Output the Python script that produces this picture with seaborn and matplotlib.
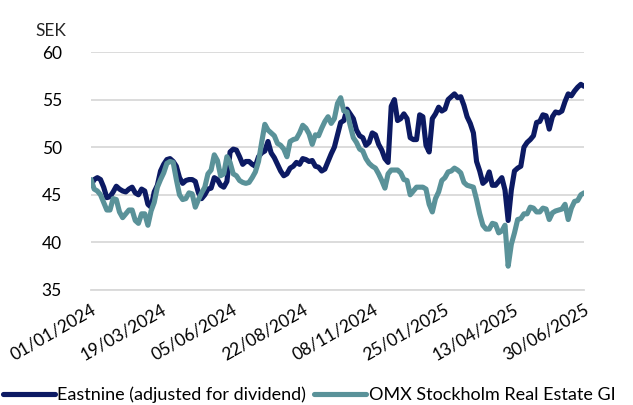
import matplotlib
matplotlib.use("Agg")
import matplotlib.pyplot as plt
import seaborn as sns
import pandas as pd
from matplotlib.lines import Line2D

start_date = "2024-01-01"
step = "84h"  # twice a week
eastnine = [46.0, 46.6, 46.8, 46.6, 45.8, 44.7, 44.8, 45.3, 45.9, 45.6,
            45.4, 45.3, 45.6, 45.8, 45.2, 45.0, 45.6, 45.4, 44.0, 43.7,
            45.3, 46.0, 47.5, 48.2, 48.7, 48.8, 48.5, 48.0, 46.8, 46.2,
            46.5, 46.6, 46.6, 46.4, 45.2, 44.6, 45.0, 45.6, 45.7, 46.8,
            46.6, 46.0, 45.8, 46.4, 49.5, 49.8, 49.7, 49.0, 48.2, 48.5,
            48.5, 48.2, 48.0, 49.0, 49.4, 49.6, 50.6, 49.4, 48.9, 48.2,
            47.5, 47.0, 47.2, 47.8, 48.0, 48.4, 48.2, 48.8, 48.7, 48.5,
            48.6, 48.0, 47.9, 47.5, 47.7, 48.5, 49.3, 50.0, 51.3, 52.6,
            52.8, 54.0, 53.5, 53.0, 51.8, 51.2, 51.0, 50.2, 50.5, 51.5,
            51.3, 50.3, 49.7, 48.8, 48.4, 54.3, 55.0, 52.8, 53.0, 53.5,
            53.0, 51.0, 50.8, 50.8, 53.4, 53.2, 50.2, 49.5, 53.0, 53.5,
            54.2, 53.8, 54.0, 55.0, 55.3, 55.6, 55.2, 55.3, 54.4, 53.2,
            52.5, 51.5, 48.5, 47.5, 46.2, 46.5, 47.4, 46.0, 46.0, 46.4,
            46.8, 45.5, 42.3, 45.5, 47.5, 47.8, 48.0, 50.0, 50.5, 50.8,
            51.2, 52.6, 52.7, 53.4, 53.3, 51.9, 53.2, 53.7, 53.6, 53.8,
            54.8, 55.6, 55.4, 55.9, 56.3, 56.6, 56.4]
omx = [46.6, 45.6, 45.4, 45.0, 44.2, 43.4, 43.4, 44.6, 44.5, 43.2,
       42.6, 43.0, 43.4, 43.4, 42.3, 42.0, 43.0, 43.0, 41.8, 43.3,
       44.2, 45.8, 46.6, 47.3, 48.3, 48.5, 48.4, 46.6, 45.0, 44.5,
       44.6, 45.2, 45.1, 43.7, 44.5, 45.2, 45.8, 47.2, 47.6, 49.2,
       48.6, 47.0, 47.2, 49.0, 48.4, 47.2, 47.0, 46.5, 46.3, 46.2,
       46.3, 46.8, 47.4, 48.5, 50.5, 52.4, 51.8, 51.5, 51.2, 50.4,
       50.2, 49.8, 49.0, 50.6, 50.8, 50.9, 51.5, 52.3, 52.0, 51.4,
       50.3, 51.3, 51.2, 52.0, 52.7, 53.2, 52.5, 53.0, 54.6, 55.2,
       53.8, 53.7, 52.3, 51.0, 50.5, 49.8, 49.6, 48.8, 48.3, 48.0,
       47.8, 47.2, 46.5, 45.7, 47.2, 47.6, 47.6, 47.6, 47.3, 46.6,
       46.5, 45.0, 45.4, 45.8, 45.8, 45.8, 45.6, 44.0, 43.2, 44.6,
       45.3, 46.5, 46.8, 47.4, 47.5, 47.8, 47.6, 47.3, 46.3, 46.0,
       45.9, 45.8, 44.5, 43.0, 41.8, 41.4, 41.4, 42.0, 41.9, 41.0,
       41.2, 41.8, 37.5, 39.8, 41.0, 42.4, 42.5, 43.0, 43.0, 43.7,
       43.6, 43.2, 43.2, 43.6, 43.5, 42.4, 43.1, 43.3, 43.4, 43.5,
       44.0, 42.4, 43.6, 44.3, 44.4, 45.0, 45.2]
series_names = ["Eastnine (adjusted for dividend)", "OMX Stockholm Real Estate GI"]
tick_labels = ["01/01/2024", "19/03/2024", "05/06/2024", "22/08/2024",
               "08/11/2024", "25/01/2025", "13/04/2025", "30/06/2025"]
y_ticks = [35, 40, 45, 50, 55, 60]

n = len(eastnine)
dates = pd.date_range(start_date, periods=n, freq=step)
df = pd.DataFrame({"date": list(dates) * 2,
                   "value": eastnine + omx,
                   "series": [series_names[0]] * n + [series_names[1]] * n})

sns.set_theme(style="white")
plt.rcParams["font.family"] = ["Lato", "DejaVu Sans"]

fig = plt.figure(figsize=(6.33, 4.05), dpi=100)
ax = fig.add_axes([0.1438, 0.284, 0.7788, 0.5876])
palette = {series_names[0]: "#0c1a63", series_names[1]: "#5a9299"}
lw = 3.7
sns.lineplot(data=df, x="date", y="value", hue="series", palette=palette,
             linewidth=lw, ax=ax, legend=False)
for line in ax.get_lines():
    line.set_solid_joinstyle("round")
    line.set_solid_capstyle("round")

ax.set_ylim(35, 60)
ax.set_yticks(y_ticks)
ax.set_xlim(pd.Timestamp("2024-01-01"), pd.Timestamp("2025-06-30"))
tick_dates = pd.to_datetime(tick_labels, format="%d/%m/%Y")
ax.set_xticks(tick_dates)
ax.set_xticklabels(tick_labels, rotation=30, ha="right", rotation_mode="anchor")
ax.set_xlabel("")
ax.set_ylabel("")
ax.grid(axis="y", color="#d9d9d9", linewidth=1.3)
ax.set_axisbelow(True)
for s in ["top", "right", "left"]:
    ax.spines[s].set_visible(False)
ax.spines["bottom"].set_color("#d9d9d9")
ax.spines["bottom"].set_linewidth(1.3)
ax.tick_params(axis="x", direction="in", length=6, color="#d9d9d9", width=1.3,
               labelsize=12.5, pad=8, labelcolor="#000000")
ax.tick_params(axis="y", length=0, labelsize=12.5, pad=21, labelcolor="#000000")
ax.text(-0.112, 1.09, "SEK", transform=ax.transAxes, fontsize=12.5, ha="left", va="center")

handles = [Line2D([0], [0], color=palette[s], linewidth=lw, solid_capstyle="round")
           for s in series_names]
fig.legend(handles, series_names, loc="lower center", bbox_to_anchor=(0.488, -0.035),
           ncol=2, frameon=False, fontsize=13, handlelength=2.9, handletextpad=0.12,
           columnspacing=0.45, labelcolor="#000000")

fig.savefig("out.png", dpi=100)
